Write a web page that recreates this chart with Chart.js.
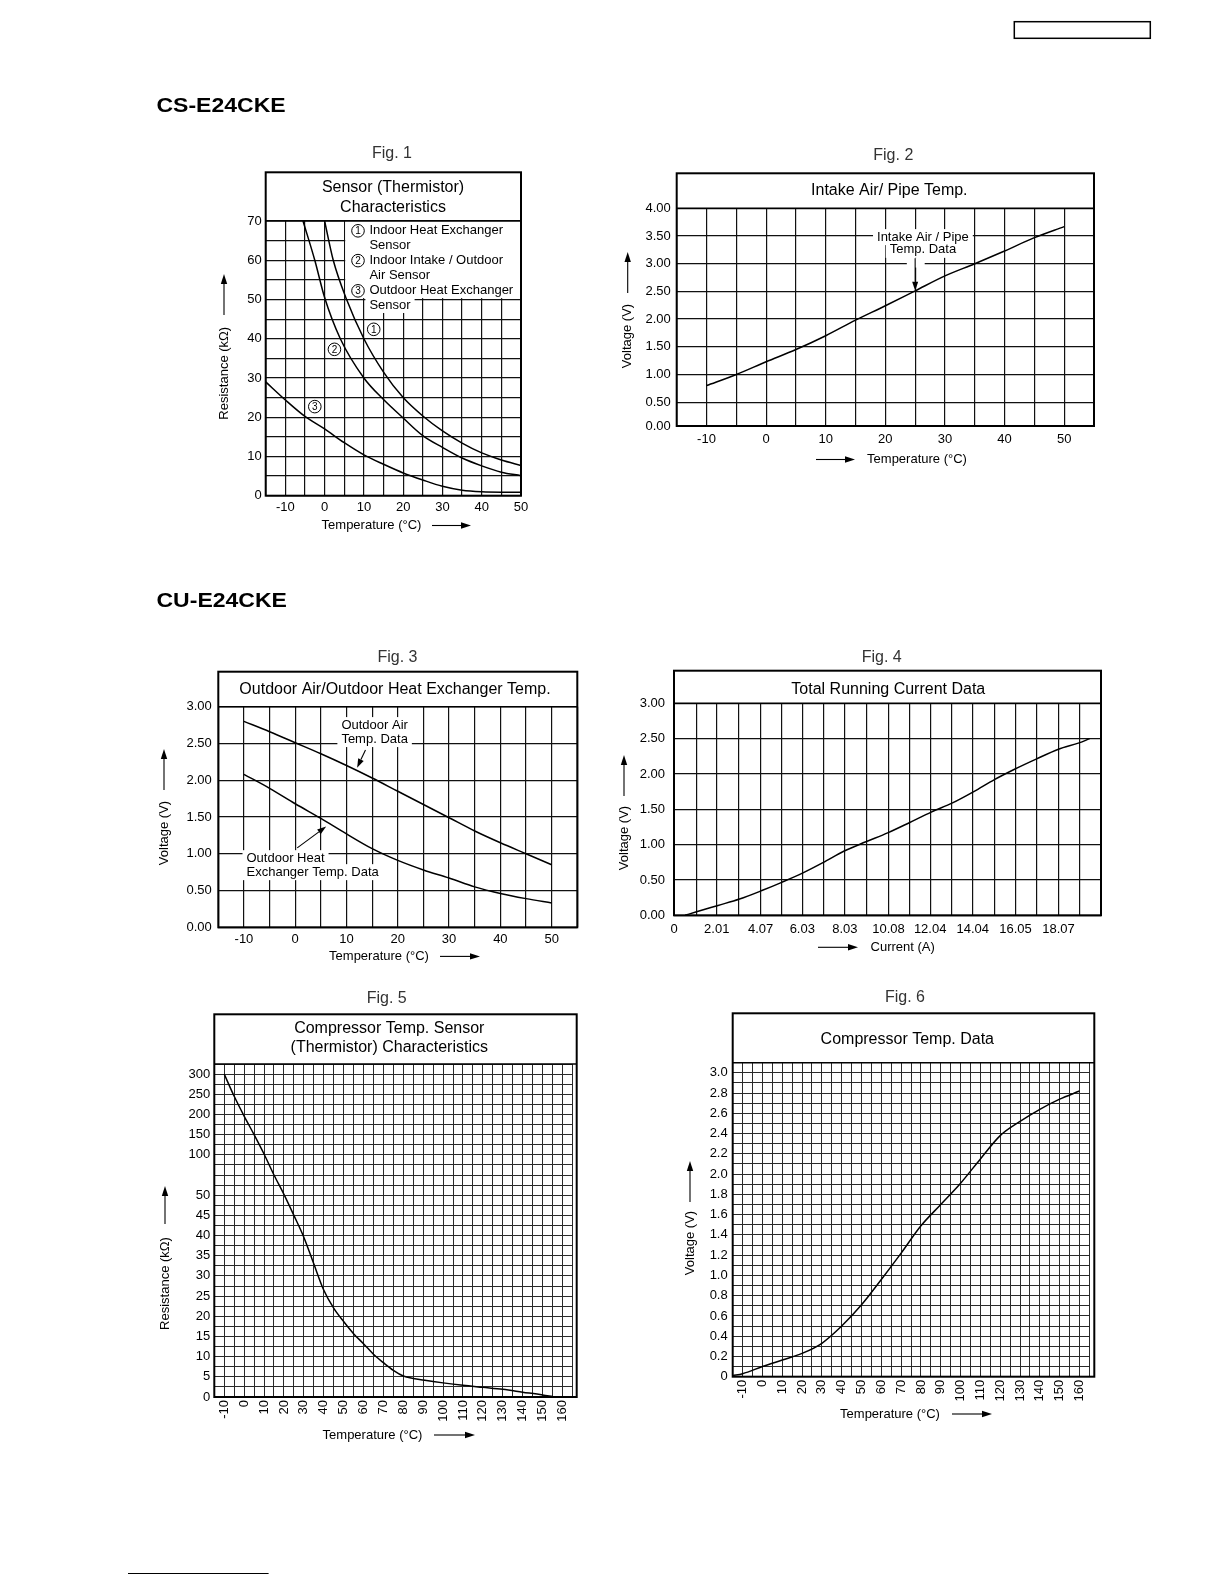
<!DOCTYPE html>
<html>
<head>
<meta charset="utf-8">
<script src="https://cdn.jsdelivr.net/npm/chart.js@4.4.1/dist/chart.umd.min.js"></script>
<style>
  html, body { margin: 0; padding: 0; background: #fff; }
  body { position: relative; width: 1224px; height: 1584px; overflow: hidden; }
  canvas { position: absolute; }
</style>
</head>
<body>
<canvas id="page" width="1224" height="1584" style="left:0;top:0"></canvas>
<script>
// ── Data ──

// Fig. 1  Sensor (thermistor) characteristics, resistance kΩ vs °C
const FIG1_T1 = [0, 2.2, 5.6, 10, 15, 20, 25, 30, 35, 40, 45, 50];
const FIG1_R1 = [70, 60, 50, 40, 31.5, 25, 20.3, 16.5, 13.4, 10.9, 9.1, 7.7];
const FIG1_T2 = [-5.5, -2.5, 0, 4, 10, 15, 20, 25, 30, 35, 40, 45, 50];
const FIG1_R2 = [70, 60, 50.5, 40, 30, 24.5, 19.8, 15.3, 12.3, 9.6, 7.6, 6.0, 5.1];
const FIG1_T3 = [-15, -10, -5, 0, 5, 10, 15, 20, 25, 30, 35, 40, 45, 50];
const FIG1_R3 = [29, 24.4, 20.2, 17, 13.5, 10.4, 8, 5.8, 4, 2.4, 1.4, 1.0, 0.9, 0.9];
const FIG1_X_LABELS = [-10, 0, 10, 20, 30, 40, 50];
const FIG1_Y_LABELS = [0, 10, 20, 30, 40, 50, 60, 70];

// Fig. 2  Intake air / pipe temp, voltage
const FIG2_TEMP = [-10, -5, 0, 5, 10, 15, 20, 25, 30, 35, 40, 45, 50];
const FIG2_VOLT = [0.80, 1.00, 1.23, 1.45, 1.70, 1.98, 2.24, 2.51, 2.78, 3.00, 3.23, 3.47, 3.67];
const FIG2_X_LABELS = [-10, 0, 10, 20, 30, 40, 50];
const FIG2_Y_LABELS = ['0.00', '0.50', '1.00', '1.50', '2.00', '2.50', '3.00', '3.50', '4.00'];

// Fig. 3  Outdoor air / outdoor heat exchanger temp
const FIG3_TEMP = [-10, -5, 0, 5, 10, 15, 20, 25, 30, 35, 40, 45, 50];
const FIG3_AIR  = [2.80, 2.66, 2.51, 2.36, 2.20, 2.03, 1.85, 1.67, 1.49, 1.31, 1.15, 1.00, 0.85];
const FIG3_HEX  = [2.08, 1.89, 1.68, 1.48, 1.27, 1.07, 0.91, 0.78, 0.67, 0.55, 0.46, 0.39, 0.33];
const FIG3_X_LABELS = [-10, 0, 10, 20, 30, 40, 50];
const FIG3_Y_LABELS = [0, 0.5, 1, 1.5, 2, 2.5, 3];

// Fig. 4  Total running current data
const FIG4_CURRENT = [0.52, 1.06, 2.07, 3.08, 4.13, 5.09, 6.06, 7.00, 8.00, 9.02, 10.07, 11.06, 12.09, 13.09, 14.09, 15.06, 16.03, 17.02, 18.07, 19.04, 19.54];
const FIG4_VOLT    = [0.00, 0.05, 0.14, 0.23, 0.35, 0.47, 0.60, 0.745, 0.91, 1.04, 1.17, 1.31, 1.46, 1.59, 1.75, 1.92, 2.07, 2.21, 2.35, 2.44, 2.50];
const FIG4_X_GRID  = [0, 1.04, 2.01, 3.04, 4.07, 5.05, 6.03, 7.03, 8.03, 9.05, 10.08, 11.06, 12.04, 13.04, 14.04, 15.05, 16.05, 17.06, 18.07, 19.07, 20.07];
const FIG4_X_LABELS = ['0', '2.01', '4.07', '6.03', '8.03', '10.08', '12.04', '14.04', '16.05', '18.07'];
const FIG4_Y_LABELS = [0, 0.5, 1, 1.5, 2, 2.5, 3];

// Fig. 5  Compressor temp sensor (thermistor), resistance kΩ
const FIG5_TEMP = [-10, -5, 0, 5, 10, 15, 20, 25, 30, 35, 40, 45, 50, 55, 60, 65, 70, 75, 80, 85, 90, 100, 110, 120, 130, 140, 150, 155];
const FIG5_RES  = [300, 245, 196, 150, 102, 75, 51, 45, 39.6, 33, 26.5, 22, 18.7, 15.7, 13.2, 10.6, 8.5, 6.6, 5.2, 4.6, 4.2, 3.5, 2.9, 2.4, 1.9, 1.2, 0.5, 0.1];
const FIG5_X_LABELS = [-10, 0, 10, 20, 30, 40, 50, 60, 70, 80, 90, 100, 110, 120, 130, 140, 150, 160];
const FIG5_Y_LABELS = [0, 5, 10, 15, 20, 25, 30, 35, 40, 45, 50, 100, 150, 200, 250, 300];

// Fig. 6  Compressor temp data, voltage
const FIG6_TEMP = [-15, -10, 0, 10, 20, 30, 40, 50, 60, 70, 80, 90, 100, 110, 120, 130, 140, 150, 160];
const FIG6_VOLT = [0.01, 0.03, 0.10, 0.165, 0.23, 0.33, 0.50, 0.71, 0.96, 1.22, 1.49, 1.70, 1.91, 2.15, 2.38, 2.52, 2.64, 2.74, 2.82];
const FIG6_X_LABELS = [-10, 0, 10, 20, 30, 40, 50, 60, 70, 80, 90, 100, 110, 120, 130, 140, 150, 160];
const FIG6_Y_LABELS = [0, 0.2, 0.4, 0.6, 0.8, 1.0, 1.2, 1.4, 1.6, 1.8, 2.0, 2.2, 2.4, 2.6, 2.8, 3.0];

// ── Shared defaults ──
const FONT = "'Liberation Sans', Arial, Helvetica, sans-serif";
Chart.defaults.font.family = FONT;
Chart.defaults.font.size   = 13;
Chart.defaults.color       = '#000';

function range(a, b, step) {
  const out = [];
  for (let v = a; v <= b + 1e-9; v += step) out.push(Math.round(v * 1000) / 1000);
  return out;
}
function pts(xs, ys) { return xs.map((x, i) => ({ x, y: ys[i] })); }
function pick(labels, fmt) {
  return v => {
    const hit = labels.find(l => Math.abs(parseFloat(l) - v) < 1e-6);
    return hit === undefined ? '' : fmt(hit);
  };
}

// ── Piecewise resistance axis for Fig. 5 (0-50 / 50-100 / 100-300 bands) ──
function resToUnit(r) {
  if (r <= 50) return r / 2.5;
  if (r <= 100) return 20 + (r - 50) / 12.5;
  return 24 + (r - 100) / 25;
}
const LinearScale = Chart.LinearScale || Chart.scales.LinearScale;
class SegmentScale extends LinearScale {
  configure() {
    super.configure();
    this._startValue = resToUnit(this.min);
    this._endValue = resToUnit(this.max);
    this._valueRange = this._endValue - this._startValue;
  }
  getPixelForValue(value) {
    if (value === null || value === undefined) return NaN;
    return this.getPixelForDecimal((resToUnit(value) - this._startValue) / this._valueRange);
  }
}
SegmentScale.id = 'segment';
SegmentScale.defaults = LinearScale.defaults;
Chart.register(SegmentScale);

// ── Drawing helpers ──
function arrow(ctx, x1, y1, x2, y2, head, half) {
  head = head || 9; half = half || 3.2;
  const a = Math.atan2(y2 - y1, x2 - x1);
  const bx = x2 - head * Math.cos(a), by = y2 - head * Math.sin(a);
  ctx.beginPath(); ctx.moveTo(x1, y1); ctx.lineTo(bx, by); ctx.stroke();
  ctx.beginPath();
  ctx.moveTo(x2, y2);
  ctx.lineTo(bx + half * Math.sin(a), by - half * Math.cos(a));
  ctx.lineTo(bx - half * Math.sin(a), by + half * Math.cos(a));
  ctx.closePath(); ctx.fill();
}

function framePlugin(f, ox, oy) {
  const X = v => v - ox, Y = v => v - oy;
  const NOTE_FONT = '13px ' + FONT;
  return {
    id: 'frame',
    beforeDatasetsDraw(chart) {
      const { ctx } = chart, sx = chart.scales.x, sy = chart.scales.y;
      ctx.save();
      ctx.fillStyle = '#fff';
      ctx.font = NOTE_FONT;
      (f.notes || []).forEach(n => {
        if (n.type === 'blank') {
          const x1 = sx.getPixelForValue(n.x1), x2 = sx.getPixelForValue(n.x2);
          const y1 = sy.getPixelForValue(n.y1), y2 = sy.getPixelForValue(n.y2);
          ctx.fillRect(Math.min(x1, x2), Math.min(y1, y2), Math.abs(x2 - x1), Math.abs(y2 - y1));
        } else if (n.type === 'text' && n.mask) {
          n.lines.forEach((t, i) => {
            const w = ctx.measureText(t).width;
            const px = sx.getPixelForValue(n.x), py = sy.getPixelForValue(n.y[i]);
            const left = n.align === 'center' ? px - w / 2 : px;
            ctx.fillRect(left - 4, py - 8, w + 8, 16);
          });
        }
      });
      ctx.restore();
    },
    afterDraw(chart) {
      const { ctx } = chart, sx = chart.scales.x, sy = chart.scales.y;
      ctx.save();
      ctx.strokeStyle = '#000';
      ctx.fillStyle = '#000';
      ctx.textBaseline = 'middle';

      // callouts on the plot
      (f.notes || []).forEach(n => {
        if (n.type === 'text') {
          ctx.font = NOTE_FONT;
          ctx.textAlign = n.align || 'left';
          n.lines.forEach((t, i) => ctx.fillText(t, sx.getPixelForValue(n.x), sy.getPixelForValue(n.y[i])));
        } else if (n.type === 'arrow') {
          ctx.lineWidth = 1.1;
          arrow(ctx, sx.getPixelForValue(n.from[0]), sy.getPixelForValue(n.from[1]),
                     sx.getPixelForValue(n.to[0]), sy.getPixelForValue(n.to[1]), 9, 3);
        } else if (n.type === 'mark') {
          const px = sx.getPixelForValue(n.x), py = sy.getPixelForValue(n.y);
          ctx.beginPath(); ctx.arc(px, py, 6.3, 0, Math.PI * 2);
          ctx.fillStyle = '#fff'; ctx.fill();
          ctx.lineWidth = 1; ctx.stroke();
          ctx.fillStyle = '#000';
          ctx.font = '10px ' + FONT; ctx.textAlign = 'center';
          ctx.fillText(n.label, px, py + 0.5);
        }
      });

      // outer box and title band
      ctx.lineWidth = 2;
      ctx.strokeRect(X(f.L), Y(f.BT), f.R - f.L, f.B - f.BT);
      ctx.lineWidth = 1.6;
      ctx.beginPath(); ctx.moveTo(X(f.L), Y(f.T)); ctx.lineTo(X(f.R), Y(f.T)); ctx.stroke();

      ctx.font = '16px ' + FONT;
      ctx.textAlign = 'center';
      f.title.lines.forEach((t, i) => ctx.fillText(t, X(f.title.x), Y(f.title.y[i])));

      ctx.fillStyle = '#333';
      ctx.fillText(f.fig.text, X(f.fig.x), Y(f.fig.y));
      ctx.fillStyle = '#000';

      // axis titles with arrows
      ctx.font = '13px ' + FONT;
      ctx.lineWidth = 1.1;
      const xt = f.xTitle;
      ctx.fillText(xt.text, X(xt.x), Y(xt.y));
      arrow(ctx, X(xt.arrow[0]), Y(xt.y), X(xt.arrow[1]), Y(xt.y), 10, 3.2);

      const yt = f.yTitle;
      ctx.save();
      ctx.translate(X(yt.x), Y(yt.y));
      ctx.rotate(-Math.PI / 2);
      ctx.fillText(yt.text, 0, 0);
      ctx.restore();
      arrow(ctx, X(yt.x), Y(yt.arrow[0]), X(yt.x), Y(yt.arrow[1]), 10, 3.2);

      ctx.restore();
    }
  };
}

function figure(f) {
  const ml = 75, mr = 14, mt = f.T - f.BT + 40, mb = 58;
  const ox = Math.round(f.L - ml), oy = Math.round(f.T - mt);
  const w = Math.round(f.R + mr - ox), h = Math.round(f.B + mb - oy);
  const canvas = document.createElement('canvas');
  canvas.width = w; canvas.height = h;
  canvas.style.left = ox + 'px'; canvas.style.top = oy + 'px';
  canvas.style.width = w + 'px'; canvas.style.height = h + 'px';
  document.body.appendChild(canvas);

  const yW = f.L - ox, padTop = f.T - oy, padRight = ox + w - f.R, xH = oy + h - f.B;
  const gridColor = f.gridColor || '#111';
  const gridWidth = f.gridWidth || 1.2;

  new Chart(canvas, {
    type: 'line',
    data: {
      datasets: f.series.map(s => ({
        data: s,
        borderColor: '#000',
        borderWidth: 1.5,
        pointRadius: 0,
        fill: false,
        cubicInterpolationMode: 'monotone',
      }))
    },
    options: {
      responsive: false,
      animation: false,
      devicePixelRatio: 1,
      events: [],
      layout: { autoPadding: false, padding: { left: 0, top: padTop, right: padRight, bottom: 0 } },
      plugins: { legend: { display: false }, tooltip: { enabled: false } },
      scales: {
        x: {
          type: 'linear',
          min: f.x.min, max: f.x.max,
          afterBuildTicks: s => { s.ticks = f.x.grid.map(v => ({ value: v })); },
          afterFit: s => { s.height = xH; },
          grid: { color: gridColor, lineWidth: gridWidth, drawTicks: false },
          border: { display: false },
          ticks: {
            autoSkip: false,
            maxRotation: f.x.rot || 0, minRotation: f.x.rot || 0,
            padding: f.x.pad,
            font: { size: 13 },
            callback: f.x.label,
          }
        },
        y: {
          type: f.y.type || 'linear',
          min: f.y.min, max: f.y.max,
          afterBuildTicks: s => { s.ticks = f.y.grid.map(v => ({ value: v })); },
          afterFit: s => { s.width = yW; },
          grid: { color: gridColor, lineWidth: gridWidth, drawTicks: false },
          border: { display: false },
          ticks: { autoSkip: false, padding: f.y.pad, font: { size: 13 }, callback: f.y.label }
        }
      }
    },
    plugins: [framePlugin(f, ox, oy)]
  });
}

// ── Fig. 1 ──
figure({
  L: 265.7, BT: 172.3, T: 221, R: 521, B: 495.7,
  x: { min: -15, max: 50, grid: range(-15, 50, 5), pad: 4, label: pick(FIG1_X_LABELS, String) },
  y: { min: 0, max: 70, grid: range(0, 70, 5), pad: 4, label: pick(FIG1_Y_LABELS, String) },
  title: { lines: ['Sensor (Thermistor)', 'Characteristics'], x: 393, y: [188, 207.7] },
  fig: { text: 'Fig. 1', x: 392, y: 154 },
  yTitle: { text: 'Resistance (k\u03A9)', x: 224, y: 373.3, arrow: [315, 274] },
  xTitle: { text: 'Temperature (\u00B0C)', x: 371.5, y: 525.5, arrow: [432, 471] },
  series: [pts(FIG1_T1, FIG1_R1), pts(FIG1_T2, FIG1_R2), pts(FIG1_T3, FIG1_R3)],
  notes: [
    { type: 'blank', x1: 5.25, x2: 50, y1: 70, y2: 50.35 },
    { type: 'text', x: 11.4, y: [67.5, 63.9, 59.9, 56.1, 52.2], lines: ['Indoor Heat Exchanger', 'Sensor', 'Indoor Intake / Outdoor', 'Air Sensor', 'Outdoor Heat Exchanger'] },
    { type: 'text', x: 11.4, y: [48.6], lines: ['Sensor'], mask: true },
    { type: 'mark', x: 8.5, y: 67.5, label: '1' },
    { type: 'mark', x: 8.5, y: 59.9, label: '2' },
    { type: 'mark', x: 8.5, y: 52.2, label: '3' },
    { type: 'mark', x: 12.5, y: 42.4, label: '1' },
    { type: 'mark', x: 2.5, y: 37.3, label: '2' },
    { type: 'mark', x: -2.5, y: 22.7, label: '3' },
  ]
});

// ── Fig. 2 ──
figure({
  L: 676.7, BT: 173.3, T: 208.3, R: 1094, B: 426,
  x: { min: -15, max: 55, grid: range(-15, 55, 5), pad: 6, label: pick(FIG2_X_LABELS, String) },
  y: { min: 0.07, max: 4, grid: [0.07].concat(range(0.5, 4, 0.5)), pad: 6,
       label: v => v < 0.1 ? FIG2_Y_LABELS[0] : pick(FIG2_Y_LABELS, s => s)(v) },
  title: { lines: ['Intake Air/ Pipe Temp.'], x: 889.3, y: [190.7] },
  fig: { text: 'Fig. 2', x: 893.3, y: 155.7 },
  yTitle: { text: 'Voltage (V)', x: 627.7, y: 336, arrow: [293, 252] },
  xTitle: { text: 'Temperature (\u00B0C)', x: 917, y: 459.5, arrow: [816, 855] },
  series: [pts(FIG2_TEMP, FIG2_VOLT)],
  notes: [
    { type: 'text', x: 26.3, y: [3.48, 3.25], lines: ['Intake Air / Pipe', 'Temp. Data'], align: 'center', mask: true },
    { type: 'blank', x1: 23.6, x2: 26.6, y1: 3.1, y2: 2.93 },
    { type: 'arrow', from: [25, 3.1], to: [25, 2.51] },
  ]
});

// ── Fig. 3 ──
figure({
  L: 218.3, BT: 671.7, T: 706.7, R: 577.3, B: 927.3,
  x: { min: -15, max: 55, grid: range(-15, 55, 5), pad: 4, label: pick(FIG3_X_LABELS, String) },
  y: { min: 0, max: 3, grid: range(0, 3, 0.5), pad: 6.5, label: pick(FIG3_Y_LABELS, v => v.toFixed(2)) },
  title: { lines: ['Outdoor Air/Outdoor Heat Exchanger Temp.'], x: 395, y: [690] },
  fig: { text: 'Fig. 3', x: 397.5, y: 657.3 },
  yTitle: { text: 'Voltage (V)', x: 164, y: 833, arrow: [790, 749] },
  xTitle: { text: 'Temperature (\u00B0C)', x: 379, y: 956.4, arrow: [440, 480] },
  series: [pts(FIG3_TEMP, FIG3_AIR), pts(FIG3_TEMP, FIG3_HEX)],
  notes: [
    { type: 'text', x: 9.0, y: [2.75, 2.56], lines: ['Outdoor Air', 'Temp. Data'], mask: true },
    { type: 'arrow', from: [13.7, 2.41], to: [12.06, 2.17] },
    { type: 'text', x: -9.5, y: [0.94, 0.75], lines: ['Outdoor Heat', 'Exchanger Temp. Data'], mask: true },
    { type: 'arrow', from: [0.39, 1.08], to: [6.03, 1.37] },
  ]
});

// ── Fig. 4 ──
figure({
  L: 674, BT: 670.7, T: 703.3, R: 1101, B: 915.3,
  x: { min: 0, max: 20.07, grid: FIG4_X_GRID, pad: 6, label: pick(FIG4_X_LABELS, s => s) },
  y: { min: 0, max: 3, grid: range(0, 3, 0.5), pad: 9, label: pick(FIG4_Y_LABELS, v => v.toFixed(2)) },
  title: { lines: ['Total Running Current Data'], x: 888.3, y: [689.3] },
  fig: { text: 'Fig. 4', x: 881.7, y: 657.3 },
  yTitle: { text: 'Voltage (V)', x: 624, y: 838, arrow: [796, 755] },
  xTitle: { text: 'Current (A)', x: 902.7, y: 947.3, arrow: [818, 858] },
  series: [pts(FIG4_CURRENT, FIG4_VOLT)],
});

// ── Fig. 5 ──
figure({
  L: 214.3, BT: 1014.3, T: 1064, R: 576.7, B: 1397,
  gridColor: '#2a2a2a', gridWidth: 1,
  x: { min: -15, max: 165, grid: range(-15, 165, 5), pad: 3, rot: 90, label: pick(FIG5_X_LABELS, String) },
  y: { type: 'segment', min: 0, max: 325,
       grid: range(0, 50, 2.5).concat([62.5, 75, 87.5]).concat(range(100, 325, 25)),
       pad: 4, label: pick(FIG5_Y_LABELS, String) },
  title: { lines: ['Compressor Temp. Sensor', '(Thermistor) Characteristics'], x: 389.3, y: [1028.3, 1047.7] },
  fig: { text: 'Fig. 5', x: 386.7, y: 998.3 },
  yTitle: { text: 'Resistance (k\u03A9)', x: 165, y: 1283.5, arrow: [1224, 1186] },
  xTitle: { text: 'Temperature (\u00B0C)', x: 372.5, y: 1435, arrow: [434, 475] },
  series: [pts(FIG5_TEMP, FIG5_RES)],
});

// ── Fig. 6 ──
figure({
  L: 732.7, BT: 1013.3, T: 1062.7, R: 1094.3, B: 1376.7,
  gridColor: '#2a2a2a', gridWidth: 1,
  x: { min: -15, max: 165, grid: range(-15, 165, 5), pad: 3, rot: 90, label: pick(FIG6_X_LABELS, String) },
  y: { min: 0, max: 3.1, grid: range(0, 3.1, 0.1), pad: 5, label: pick(FIG6_Y_LABELS, v => v === 0 ? '0' : v.toFixed(1)) },
  title: { lines: ['Compressor Temp. Data'], x: 907.3, y: [1040] },
  fig: { text: 'Fig. 6', x: 905, y: 997.3 },
  yTitle: { text: 'Voltage (V)', x: 690, y: 1243, arrow: [1202, 1161] },
  xTitle: { text: 'Temperature (\u00B0C)', x: 890, y: 1414, arrow: [952, 992] },
  series: [pts(FIG6_TEMP, FIG6_VOLT)],
});

// ── Page furniture: model headings, header box, footer rule ──
(function drawPage() {
  const ctx = document.getElementById('page').getContext('2d');
  ctx.fillStyle = '#000';
  ctx.strokeStyle = '#000';
  ctx.font = 'bold 20px ' + FONT;
  ctx.textBaseline = 'alphabetic';
  [['CS-E24CKE', 112], ['CU-E24CKE', 607]].forEach(([t, y]) => {
    ctx.save();
    ctx.translate(156.5, y);
    ctx.scale(1.15, 1);
    ctx.fillText(t, 0, 0);
    ctx.restore();
  });
  ctx.lineWidth = 1.5;
  ctx.strokeRect(1014.3, 21.7, 136, 16.6);
  ctx.lineWidth = 1;
  ctx.beginPath(); ctx.moveTo(128, 1573.5); ctx.lineTo(268.6, 1573.5); ctx.stroke();
})();
</script>
</body>
</html>
